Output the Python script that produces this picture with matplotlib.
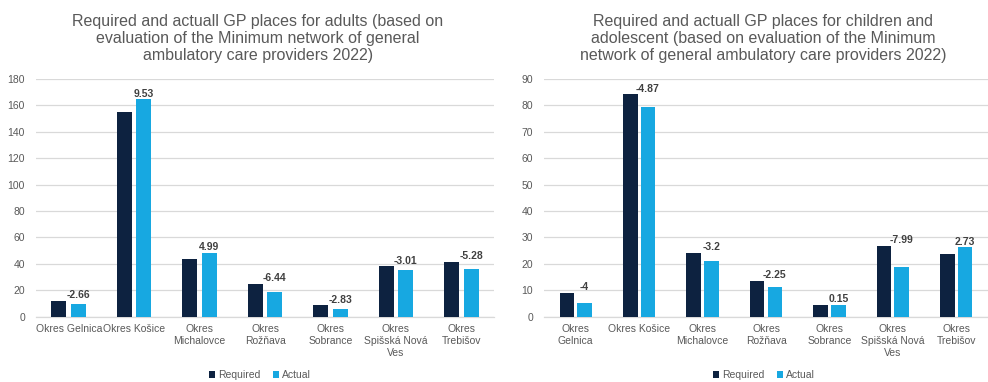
import matplotlib
matplotlib.use("Agg")
import matplotlib.pyplot as plt
import numpy as np

plt.rcParams['font.family'] = ['Liberation Sans', 'DejaVu Sans']

# Districts (two label layouts, one per panel)
districts_adults = ["Okres Gelnica", "Okres Košice", "Okres\nMichalovce", "Okres\nRožňava",
                    "Okres\nSobrance", "Okres\nSpišská Nová\nVes", "Okres\nTrebišov"]
districts_children = ["Okres\nGelnica", "Okres Košice", "Okres\nMichalovce", "Okres\nRožňava",
                      "Okres\nSobrance", "Okres\nSpišská Nová\nVes", "Okres\nTrebišov"]

# Adults
adults_required = [12.0, 155.0, 43.5, 25.0, 8.8, 38.3, 41.5]
adults_actual = [9.34, 164.53, 48.49, 18.56, 5.97, 35.29, 36.22]
adults_diff = [-2.66, 9.53, 4.99, -6.44, -2.83, -3.01, -5.28]

# Children and adolescents
children_required = [9.0, 84.2, 24.3, 13.5, 4.4, 26.8, 23.6]
children_actual = [5.0, 79.33, 21.1, 11.25, 4.55, 18.81, 26.33]
children_diff = [-4, -4.87, -3.2, -2.25, 0.15, -7.99, 2.73]

title_adults = ("Required and actuall GP places for adults (based on\n"
                "evaluation of the Minimum network of general\n"
                "ambulatory care providers 2022)")
title_children = ("Required and actuall GP places for children and\n"
                  "adolescent (based on evaluation of the Minimum\n"
                  "network of general ambulatory care providers 2022)")

C_REQ = "#0d2240"
C_ACT = "#17a8e1"
C_GRID = "#d9d9d9"
C_TEXT = "#595959"
C_LABEL = "#404040"

W, H = 988, 382
fig = plt.figure(figsize=(W / 100, H / 100), dpi=100)


def panel(rect, labels, req, act, diff, ymax, ystep, off, title, title_x, legend_x):
    ax = fig.add_axes(rect)
    x = np.arange(len(labels))
    bw = 0.23
    ax.bar(x - off, req, bw, color=C_REQ, label="Required", zorder=3)
    ax.bar(x + off, act, bw, color=C_ACT, label="Actual", zorder=3)
    ax.set_xlim(-0.5, len(labels) - 0.5)
    ax.set_ylim(0, ymax)
    ax.set_yticks(np.arange(0, ymax + 1, ystep))
    ax.set_xticks(x)
    ax.set_xticklabels(labels, fontsize=7.5, color=C_TEXT, linespacing=1.25)
    ax.tick_params(axis='both', length=0, colors=C_TEXT, labelsize=7.5)
    ax.tick_params(axis='x', pad=5)
    ax.tick_params(axis='y', pad=8)
    ax.grid(axis='y', color=C_GRID, linewidth=0.9, zorder=0)
    for s in ("top", "right", "left"):
        ax.spines[s].set_visible(False)
    ax.spines["bottom"].set_color(C_GRID)
    ax.spines["bottom"].set_linewidth(0.9)
    for xi, r, a, d in zip(x, req, act, diff):
        ax.annotate(f"{d:g}", (xi + off, max(r, a)), xytext=(0, 4),
                    textcoords="offset points", ha="center", va="center",
                    fontsize=7.5, fontweight="bold", color=C_LABEL, zorder=4)
    fig.text(title_x, 1 - 38.5 / H, title, ha="center", va="center",
             fontsize=11.5, color=C_TEXT, linespacing=1.15)
    fig.legend(handles=ax.get_legend_handles_labels()[0], labels=["Required", "Actual"],
               loc="center", bbox_to_anchor=(legend_x, 1 - 375 / H), ncol=2,
               frameon=False, fontsize=7.5, handlelength=0.6, handleheight=0.6,
               handletextpad=0.3, columnspacing=1.2, labelcolor=C_TEXT)
    return ax


bottom = 1 - 316.7 / H
height = (316.7 - 79) / H
panel([36 / W, bottom, 458 / W, height], districts_adults, adults_required,
      adults_actual, adults_diff, 180, 20, 0.15, title_adults, 258 / W, 260 / W)
panel([544 / W, bottom, 444 / W, height], districts_children, children_required,
      children_actual, children_diff, 90, 10, 0.14, title_children, 763 / W, 764 / W)

fig.savefig("out.png", dpi=100, facecolor="white")
